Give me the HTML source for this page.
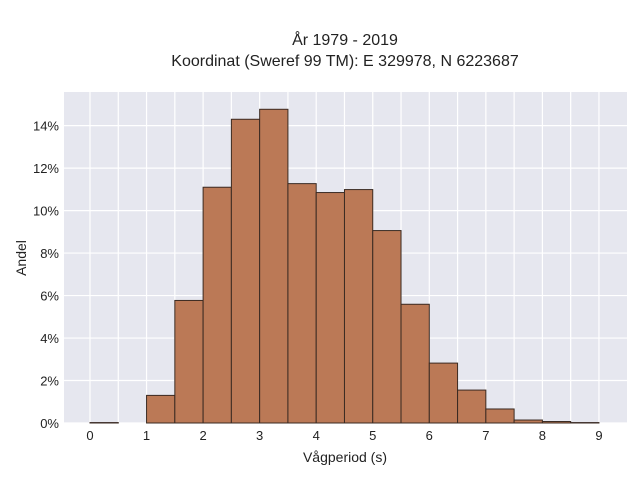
<!DOCTYPE html>
<html><head><meta charset="utf-8"><style>
body{margin:0;background:#fff;}
svg{display:block;font-family:"Liberation Sans",sans-serif;}
</style></head><body>
<svg id="chart" width="640" height="480">
<text x="345" y="45" text-anchor="middle" font-size="16" fill="#222">År 1979 - 2019</text>
<text x="345" y="66" text-anchor="middle" font-size="16" fill="#222">Koordinat (Sweref 99 TM): E 329978, N 6223687</text>
<rect x="64" y="92" width="563" height="331" fill="#e6e7ef"/>
<g id="grid"></g>
<g id="bars"></g>
<g id="xticks"></g>
<g id="yticks"></g>
<text x="345" y="462" text-anchor="middle" font-size="14" fill="#222">Vågperiod (s)</text>
<text x="26" y="258" text-anchor="middle" font-size="14" fill="#222" transform="rotate(-90 26 258)">Andel</text>
</svg>
<script>
const binStarts=[0,0.5,1,1.5,2,2.5,3,3.5,4,4.5,5,5.5,6,6.5,7,7.5,8,8.5];
const shares=[0.02,0,1.3,5.77,11.1,14.3,14.77,11.27,10.85,10.99,9.06,5.59,2.82,1.55,0.66,0.14,0.07,0.02];
const xTicks=[0,1,2,3,4,5,6,7,8,9];
const yTicks=[0,2,4,6,8,10,12,14];
const binWidth=0.5;
const NS="http://www.w3.org/2000/svg";
const X=v=>90+v*56.55;
const Y=v=>423-v*21.24;
const grid=document.getElementById('grid'),bars=document.getElementById('bars'),xt=document.getElementById('xticks'),yt=document.getElementById('yticks');
function mk(tag,attrs,parent){const e=document.createElementNS(NS,tag);for(const k in attrs)e.setAttribute(k,attrs[k]);parent.appendChild(e);return e;}
for(let v=0;v<=9.001;v+=0.5){
  const l=mk('line',{x1:X(v),x2:X(v),y1:92,y2:423,stroke:'#fff','stroke-width':1.2},grid);
  
  
}
yTicks.forEach(v=>{
  const l=mk('line',{x1:64,x2:627,y1:Y(v),y2:Y(v),stroke:'#fff','stroke-width':1.2},grid);
  
  
  const t=mk('text',{x:59,y:Y(v)+5,'text-anchor':'end','font-size':13,fill:'#222'},yt);
  t.textContent=v+'%';
  
  
});
xTicks.forEach(v=>{
  const t=mk('text',{x:X(v),y:440,'text-anchor':'middle','font-size':13,fill:'#222'},xt);
  t.textContent=v;
  
  
});
binStarts.forEach((b,i)=>{
  const v=shares[i];
  const r=mk('rect',{x:X(b),y:Y(v),width:X(b+binWidth)-X(b),height:Y(0)-Y(v),fill:'#bb7956',stroke:'#3a2a22','stroke-width':1},bars);
  
  
});
</script>
</body></html>
